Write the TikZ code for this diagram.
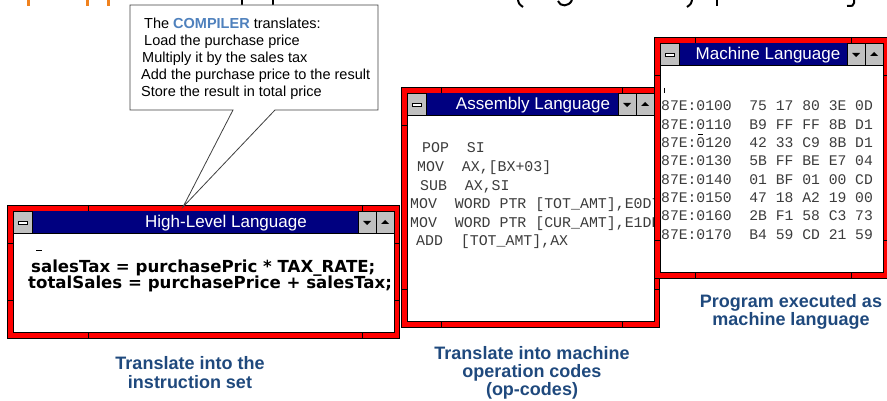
\documentclass[tikz,border=0pt]{standalone}
\usepackage{fontspec}
\setmainfont{Liberation Sans}
\newfontfamily\monofont{Liberation Mono}
\newfontfamily\codefont{DejaVu Sans}
\definecolor{winred}{RGB}{255,0,0}
\definecolor{winnavy}{RGB}{0,0,128}
\definecolor{btngray}{RGB}{192,192,192}
\definecolor{capblue}{RGB}{31,73,125}
\definecolor{complblue}{RGB}{79,129,189}
\definecolor{titleorange}{RGB}{240,130,30}
\definecolor{codegray}{RGB}{60,60,60}
\tikzset{
 winframe/.style={fill=winred, draw=black, line width=0.8pt},
 wininner/.style={fill=white, draw=black, line width=0.8pt},
 wintick/.style={draw=black, line width=0.7pt},
 btn/.style={fill=btngray, draw=black, line width=0.6pt},
 wintitle/.style={anchor=base, inner sep=0pt, text=white, font=\fontsize{17}{20}\selectfont},
 callouttext/.style={anchor=base west, inner sep=0pt, font=\fontsize{14.5}{17}\selectfont},
 hlcode/.style={anchor=base west, inner sep=0pt, font=\codefont\bfseries\fontsize{16.6}{16}\selectfont},
 asmcode/.style={anchor=base west, inner sep=0pt, text=codegray, font=\monofont\fontsize{14.9}{18}\selectfont},
 mcode/.style={anchor=base west, inner sep=0pt, text=codegray, font=\monofont\fontsize{14.7}{18}\selectfont},
 captext/.style={anchor=base, inner sep=0pt, text=capblue, font=\bfseries\fontsize{18}{19}\selectfont},
 orstroke/.style={draw=titleorange, line width=3pt},
 blstroke/.style={draw=black, line width=2.6pt},
 thinstroke/.style={draw=black, line width=2pt},
 calloutshape/.style={fill=white, draw=black!75, line width=0.8pt},
}
\newcommand{\appwin}[8]{%
 \pgfmathsetmacro\wXa{#2+6}%
 \pgfmathsetmacro\wYa{#3+6}%
 \pgfmathsetmacro\wXb{#4-5}%
 \pgfmathsetmacro\wYb{#5-6}%
 \pgfmathsetmacro\wYt{\wYa+22}%
 \draw[winframe] (#2,#3) rectangle (#4,#5);
 \draw[wintick] (#8,#3) -- (#8,\wYa) (#8,\wYb) -- (#8,#5)
   (#4-37,#3) -- (#4-37,\wYa) (#4-37,\wYb) -- (#4-37,#5)
   (#2,#3+38) -- (\wXa,#3+38) (\wXb,#3+38) -- (#4,#3+38)
   (#2,#5-38) -- (\wXa,#5-38) (\wXb,#5-38) -- (#4,#5-38);
 \draw[wininner] (\wXa,\wYa) rectangle (\wXb,\wYb);
 \fill[winnavy] (\wXa,\wYa) rectangle (\wXb,\wYt);
 \draw[btn] (\wXa,\wYa) rectangle (\wXa+19,\wYt);
 \draw[fill=white, draw=black, line width=0.5pt] (\wXa+5,\wYa+10) rectangle (\wXa+14,\wYa+13);
 \draw[btn] (\wXb-36,\wYa) rectangle (\wXb-18,\wYt);
 \draw[btn] (\wXb-18,\wYa) rectangle (\wXb,\wYt);
 \fill (\wXb-31,\wYa+10) -- (\wXb-23,\wYa+10) -- (\wXb-27,\wYa+14) -- cycle;
 \fill (\wXb-13,\wYa+13) -- (\wXb-5,\wYa+13) -- (\wXb-9,\wYa+9) -- cycle;
 \draw[black, line width=0.8pt] (\wXa,\wYt) -- (\wXb,\wYt);
 \node[wintitle] (#1) at (#6,\wYa+17) {#7};
}
\begin{document}
\begin{tikzpicture}[x=1pt,y=-1pt]
\useasboundingbox (0,0) rectangle (887,401);
% cut-off title fragments
\draw[orstroke] (28,0) -- (28,6) (87,0) -- (87,6) (108,0) -- (108,6);
\draw[blstroke] (242,0) -- (242,6) (273,0) -- (273,6);
\draw[thinstroke] (518,0) .. controls (519,4) .. (523,7);
\draw[thinstroke] (558,1) .. controls (560,7) and (569,7) .. (572,0);
\draw[thinstroke] (692,0) .. controls (691,4) .. (687,7);
\draw[blstroke] (717,0) -- (717,6);
\draw[thinstroke] (854,0) -- (854,3) .. controls (853,6) .. (847,6);

% High-level window
\appwin{hl}{7}{205}{399}{338}{226}{High-Level Language}{88}
\draw[line width=0.8pt] (36,250) -- (42,250);
\node[hlcode] (hl1) at (31,272) {salesTax = purchasePric * TAX\_RATE;};
\node[hlcode] (hl2) at (28,288) {totalSales = purchasePrice + salesTax;};

% Assembly window
\appwin{asm}{401}{87}{659}{327}{533}{Assembly Language}{441}
\node[asmcode] (a1) at (422,153) {POP~~SI};
\node[asmcode] (a2) at (417,172) {MOV~~AX,[BX+03]};
\node[asmcode] (a3) at (420,191) {SUB~~AX,SI};
\node[asmcode] (a4) at (410,209) {MOV~~WORD PTR [TOT\_AMT],E0D7};
\node[asmcode] (a5) at (410,227) {MOV~~WORD PTR [CUR\_AMT],E1DB};
\node[asmcode] (a6) at (416,246) {ADD~~[TOT\_AMT],AX};

% Machine window
\appwin{mach}{654}{37}{888}{278}{768}{Machine Language}{695}
\draw[line width=0.7pt] (664,88) -- (664,93);
\draw[line width=0.7pt] (698,134) -- (703,134);
\node[mcode] (m1) at (661,111) {87E:0100~~75 17 80 3E 0D};
\node[mcode] (m2) at (661,129.3) {87E:0110~~B9 FF FF 8B D1};
\node[mcode] (m3) at (661,147.6) {87E:0120~~42 33 C9 8B D1};
\node[mcode] (m4) at (661,165.9) {87E:0130~~5B FF BE E7 04};
\node[mcode] (m5) at (661,184.2) {87E:0140~~01 BF 01 00 CD};
\node[mcode] (m6) at (661,202.5) {87E:0150~~47 18 A2 19 00};
\node[mcode] (m7) at (661,220.8) {87E:0160~~2B F1 58 C3 73};
\node[mcode] (m8) at (661,239.1) {87E:0170~~B4 59 CD 21 59};

% Callout
\draw[calloutshape] (130,5) -- (378,5) -- (378,110) -- (275,110) -- (183,207) -- (233,110) -- (130,110) -- cycle;
\node[callouttext] (c1) at (144,29) {The \textcolor{complblue}{\bfseries COMPILER} translates:};
\node[callouttext] (c2) at (144,46) {Load the purchase price};
\node[callouttext] (c3) at (142,63) {Multiply it by the sales tax};
\node[callouttext] (c4) at (141,80) {Add the purchase price to the result};
\node[callouttext] (c5) at (141,97) {Store the result in total price};

% Captions
\node[captext] (p1a) at (190,369) {Translate into the};
\node[captext] (p1b) at (190,388) {instruction set};
\node[captext] (p2a) at (532,359) {Translate into machine};
\node[captext] (p2b) at (532,377) {operation codes};
\node[captext] (p2c) at (532,395) {(op-codes)};
\node[captext] (p3a) at (791,307) {Program executed as};
\node[captext] (p3b) at (791,325) {machine language};
\end{tikzpicture}
\end{document}
